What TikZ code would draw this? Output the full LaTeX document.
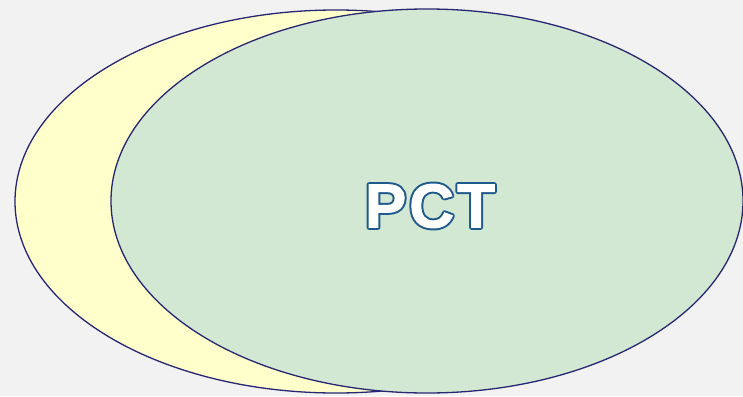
\documentclass[tikz,border=0pt]{standalone}
\usepackage{fontspec}
\setmainfont{Liberation Sans}
\usetikzlibrary{shapes.geometric}
\definecolor{bgc}{HTML}{F2F2F2}
\definecolor{yel}{HTML}{FFFFCC}
\definecolor{grn}{HTML}{D3E8D3}
\definecolor{edge}{HTML}{262673}
\newcommand{\outlinedtext}[1]{\special{pdf:code q 2 Tr 1.0 w 1 1 1 RG 1 1 1 rg}\rlap{#1}\special{pdf:code Q}}
\newcommand{\strokedtext}[1]{\special{pdf:code q 1 Tr 5.0 w 1 j 0.122 0.353 0.549 RG}\rlap{#1}\special{pdf:code Q}}
\tikzset{blob/.style={draw=edge, line width=1.3pt, ellipse, inner sep=0pt}}
\begin{document}
\begin{tikzpicture}[x=1pt,y=-1pt]
\useasboundingbox[fill=bgc] (0,0) rectangle (743,396);
\node[blob, fill=yel, minimum width=642pt, minimum height=383pt] (yellow) at (336,201.5) {};
\node[blob, fill=grn, minimum width=632pt, minimum height=384pt] (green) at (427,201) {};
\node (pct) at (430,206) {\fontsize{62}{70}\selectfont\bfseries\addfontfeature{LetterSpace=5}\strokedtext{PCT}\outlinedtext{PCT}\phantom{PCT}};
\end{tikzpicture}
\end{document}
